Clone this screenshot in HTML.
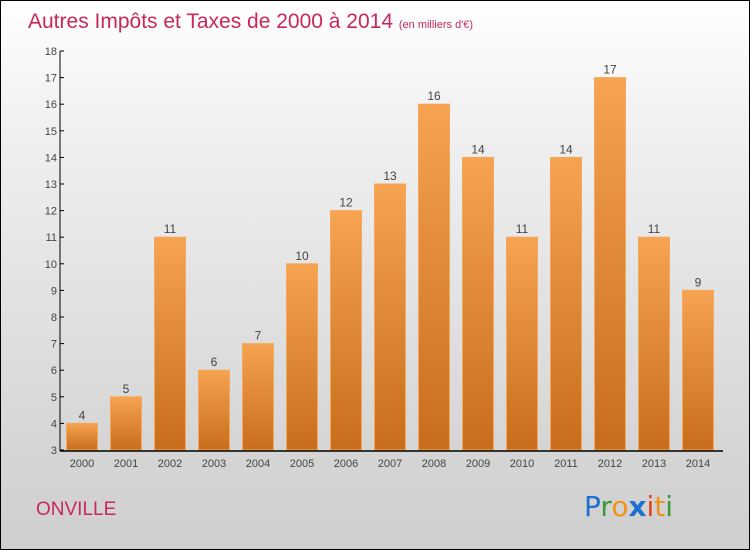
<!DOCTYPE html>
<html><head><meta charset="utf-8"><style>
body{margin:0}
#c{position:relative;width:748px;height:548px;border:1px solid #000;background:linear-gradient(#fff,#f2f2f2 20%,#d6d6d6 80%,#cfcfcf);font-family:"Liberation Sans",sans-serif;overflow:hidden}
</style></head><body>
<div id="c">
<svg width="748" height="548" id="s">
<defs><linearGradient id="g" x1="0" y1="0" x2="0" y2="1"><stop offset="0" stop-color="#f6a352"/><stop offset="1" stop-color="#c86d1c"/></linearGradient></defs>
<text x="27" y="27" font-size="21" fill="#c8285a">Autres Impôts et Taxes de 2000 à 2014 <tspan font-size="11">(en milliers d'€)</tspan></text>
<text x="35" y="514" font-size="19" fill="#c8285a">ONVILLE</text>
<text x="583" y="515" font-size="28" font-family="'DejaVu Sans',sans-serif"><tspan fill="#1f6fcf">P</tspan><tspan fill="#3a9a3a">r</tspan><tspan fill="#f39018">o</tspan><tspan fill="#1f6fcf" font-weight="bold">x</tspan><tspan fill="#e8401c">i</tspan><tspan fill="#f39018">t</tspan><tspan fill="#3a9a3a">i</tspan></text>
<g id="plot"></g>
</svg>
</div>
<script>
const years=["2000","2001","2002","2003","2004","2005","2006","2007","2008","2009","2010","2011","2012","2013","2014"];
const values=[4,5,11,6,7,10,12,13,16,14,11,14,17,11,9];
const ticks=[3,4,5,6,7,8,9,10,11,12,13,14,15,16,17,18];
const NS="http://www.w3.org/2000/svg";
const g=document.getElementById('plot');
const x0=59,yMin=3,yMax=18,yTop=50,yBot=449;
const y=v=>yBot-(v-yMin)/(yMax-yMin)*(yBot-yTop);
const xc=i=>81+44*i;
function mk(t,a){const e=document.createElementNS(NS,t);for(const k in a)e.setAttribute(k,a[k]);g.appendChild(e);return e;}
values.forEach((v,i)=>{
 const r=mk('rect',{x:xc(i)-15.5,y:y(v),width:31,height:yBot-y(v),fill:'url(#g)',stroke:'#f4a85a','stroke-width':1});
 
 
 const t=mk('text',{x:xc(i),y:y(v)-4,'text-anchor':'middle','font-size':12,fill:'#444'});
 t.textContent=v;
 
 
 const xl=mk('text',{x:xc(i),y:466,'text-anchor':'middle','font-size':11,fill:'#444'});
 xl.textContent=years[i];
 
 
});
ticks.forEach(v=>{
 mk('line',{x1:x0,x2:x0+4,y1:y(v),y2:y(v),stroke:'#000'});
 const t=mk('text',{x:x0-3,y:y(v)+4,'text-anchor':'end','font-size':11,fill:'#444'});
 t.textContent=v;
 
 
});
const ya=mk('line',{x1:x0,x2:x0,y1:yTop,y2:yBot+1,stroke:'#000'});


const xa=mk('line',{x1:x0,x2:722,y1:yBot+1,y2:yBot+1,stroke:'#000','stroke-width':1.5});


</script>
</body></html>
